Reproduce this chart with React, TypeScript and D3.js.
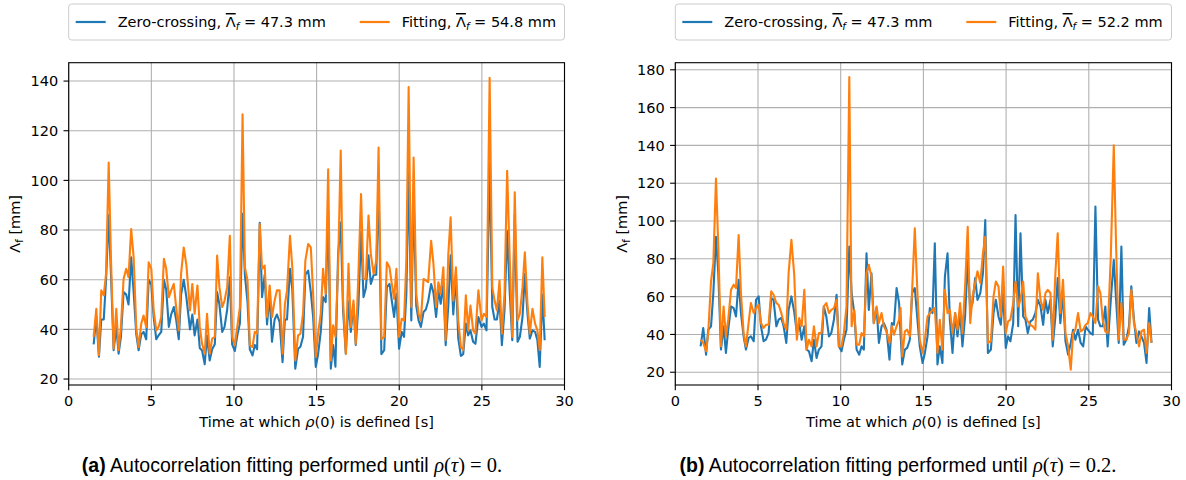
import React from 'react';
import * as d3 from 'd3';

// ---------- data ----------
const xTicks = [0, 5, 10, 15, 20, 25, 30];
const yTicksA = [20, 40, 60, 80, 100, 120, 140];
const yTicksB = [20, 40, 60, 80, 100, 120, 140, 160, 180];
const xLim = [0, 30];
const yLimA = [17.6, 147.4];
const yLimB = [13.25, 183.75];
const meanZero = '47.3';
const meanFitA = '54.8';
const meanFitB = '52.2';

const timesA = [1.51,1.67,1.83,1.97,2.12,2.26,2.42,2.56,2.72,2.88,3.02,3.16,3.32,3.48,3.62,3.78,3.93,4.09,4.23,4.39,4.53,4.69,4.84,5.0,5.14,5.3,5.44,5.6,5.76,5.9,6.06,6.2,6.36,6.5,6.66,6.8,6.96,7.12,7.34,7.48,7.62,7.79,7.93,8.07,8.23,8.37,8.53,8.68,8.84,8.98,9.12,9.29,9.43,9.59,9.75,9.89,10.05,10.2,10.36,10.52,10.66,10.82,10.96,11.12,11.26,11.4,11.56,11.7,11.86,12.0,12.16,12.3,12.46,12.6,12.76,12.94,13.08,13.21,13.39,13.53,13.71,13.88,14.02,14.18,14.32,14.49,14.65,14.79,14.95,15.09,15.25,15.39,15.55,15.7,15.86,16.0,16.14,16.3,16.46,16.6,16.77,16.93,17.07,17.23,17.37,17.53,17.69,17.84,17.98,18.14,18.28,18.45,18.61,18.75,18.92,19.09,19.25,19.41,19.55,19.69,19.83,19.99,20.15,20.29,20.43,20.57,20.73,20.87,21.03,21.17,21.31,21.47,21.61,21.75,21.93,22.07,22.23,22.37,22.51,22.67,22.81,22.97,23.11,23.27,23.43,23.57,23.73,23.87,24.03,24.17,24.31,24.47,24.61,24.79,24.98,25.12,25.28,25.47,25.63,25.77,25.91,26.07,26.21,26.37,26.53,26.69,26.84,26.99,27.16,27.3,27.46,27.6,27.76,27.9,28.06,28.22,28.36,28.5,28.66,28.8];
const zeroA = [34,45,29,44,44,60,86,62,31.6,41,30.2,37,55,54,50,69,55,38,31.6,38,39,36,60,58,45,36,37.6,39,60,56,41,46,49,44,36,54,60,53,40,46,37.6,44,32.5,31.5,26,37.5,27.5,32,34,55,50,39,41,48,61,34,31.3,37.5,42.5,86.5,62,51,32,29.5,33.7,32,82.9,53,62,42,54,35,44,46,43,26.8,44,44,64.4,56,24.2,32.2,33,37,62,63.7,55,45,24.9,30,39,53,51,88,24.2,33.7,25,70,83,47.8,30.2,51.3,39,50,33.7,49.5,79.3,53,56.6,69.8,58.3,61.9,62,100,30,31.6,57,58.3,51.6,45,54.3,32.2,39,37,54.3,103,43.6,93.5,49.5,43.6,41,47,48,51.3,58.3,54.8,45,55.7,50.3,58.3,33.6,49.5,69.8,46,61.9,36.4,29.3,30,42.3,37.6,39.6,35,34.2,45,41,42.3,39.6,107,49,44,44,51.6,33.6,47.6,79.6,54.3,35.6,86,35,37,45,62.4,46.3,36.3,39.6,39,35.6,24.9,54,35.6];
const fitA = [37,48.3,29.6,55.7,53.7,62.4,107.2,67.7,32.2,48.3,31.6,41,60.3,64.4,61,80.4,69,40.3,32.9,42.3,45.6,41,67,64.4,47.6,39.6,41,45,68.4,64.4,53,55.7,58.3,49,39.6,62.4,73,66,47.6,58.3,46.3,57.7,41,34.2,30.2,46.3,30.2,36.3,37,69.7,57,49,51.6,57,77.7,37,33.6,41,49,126.6,65,59.7,33.6,32.9,39,38.3,82.4,64.4,65.7,45,57.7,45,51.6,55.7,55.7,30.2,50,55.7,77.7,65,27.5,37.6,38.3,46.3,67.7,74.4,73,54.3,28.9,38.3,46.3,64.4,54.3,104.5,27.5,41.6,37,65,112,51.6,30.2,66.4,41,51.6,34.2,62.4,94.5,60.3,60.3,85.8,70.4,62.4,67.7,113.2,36,37,67,65,58.3,52.3,64.4,37,44.3,43.6,67.7,137.6,49,109.2,54.3,46.3,43.6,60.3,59.7,59,75.7,66.4,49,59,54.3,65,35.6,70.4,85.1,51.6,65,43.6,32.9,31.6,53.7,39.6,49.6,39.6,38.3,55.7,43.6,46.3,45,141.3,57,51.6,47.6,59.7,38.3,54.3,103.9,67.7,37,95.2,43.6,46.3,57,71,50.3,38.3,48.3,42.3,39.6,31.6,69,45];

const timesB = [1.53,1.69,1.86,1.99,2.16,2.3,2.46,2.6,2.76,2.92,3.06,3.2,3.37,3.53,3.67,3.83,3.97,4.13,4.27,4.43,4.57,4.74,4.88,5.04,5.18,5.34,5.48,5.64,5.8,5.94,6.11,6.25,6.41,6.55,6.71,6.85,7.02,7.19,7.35,7.49,7.64,7.8,7.94,8.08,8.24,8.38,8.54,8.68,8.84,8.98,9.13,9.29,9.43,9.59,9.75,9.89,10.05,10.19,10.35,10.52,10.66,10.82,10.96,11.12,11.26,11.4,11.56,11.7,11.86,12.0,12.17,12.31,12.47,12.61,12.77,12.95,13.09,13.22,13.38,13.53,13.62,13.72,13.88,14.02,14.18,14.32,14.48,14.64,14.78,14.95,15.09,15.25,15.39,15.55,15.69,15.85,15.99,16.15,16.3,16.46,16.6,16.76,16.92,17.06,17.22,17.36,17.52,17.68,17.83,17.97,18.13,18.27,18.44,18.6,18.74,18.9,19.08,19.24,19.38,19.54,19.68,19.82,19.98,20.12,20.26,20.43,20.57,20.73,20.87,21.03,21.17,21.31,21.47,21.61,21.77,21.92,22.08,22.24,22.38,22.52,22.68,22.82,22.98,23.12,23.28,23.44,23.59,23.75,23.91,24.05,24.19,24.35,24.51,24.66,24.81,24.94,25.1,25.24,25.4,25.56,25.7,25.84,26.0,26.14,26.33,26.51,26.65,26.81,26.97,27.11,27.27,27.43,27.57,27.73,27.88,28.04,28.18,28.34,28.49,28.65,28.79];
const zeroB = [33.7,43.4,29.3,42.5,44.3,61.9,91.7,72.4,32,44.3,30.2,42.5,54.8,53.9,49.5,68.9,51.3,39,32,38.1,39,36.4,58.3,60.1,44.3,36.4,37.2,40.7,59.2,58.3,44.3,47.8,48.7,44.3,35.5,53,60.1,52,40.7,46,37.2,44.3,32,31.1,25.8,37.2,27.6,32,33.7,54.8,49.5,39,40.7,47.8,61,33.7,31.1,37.2,42.5,86.5,61.9,51.3,32,29.3,33.7,32,82.9,53,72.4,46,53.9,35.5,44.3,46,42.5,26.7,46,45.1,64.5,56.6,40,24.1,32,32.9,37.2,61.9,64.5,47.8,33.7,24.9,30.2,39,53.9,51.3,88.2,24.1,33.7,24.9,70.6,82.9,47.8,30.2,51.3,39,51.3,33.7,49.5,79.3,53,56.6,69.8,58.3,61.9,72.4,100.5,30.2,32,51.3,58.3,49.5,45.1,61.9,32.9,39,36.4,46,103.2,44.3,93.5,49.5,47.8,40.7,46.9,47.8,51.3,58.3,54.8,45.1,58.3,51.3,58.3,33.7,49.5,69.8,46,61.9,36.4,29.3,35.5,42.5,37.2,42.5,35.5,33.7,44.3,42.5,40.7,39.9,107.6,47.8,44.3,44.3,54.8,33.7,58.3,79.4,58.3,35.5,86.5,34.6,37.2,44.3,65.4,47.8,35.5,41.6,39,35.5,24.9,53.9,35.5];
const fitB = [37.2,35.5,31.1,40.7,68,77.7,122.5,86.5,33.7,54.8,39,47.8,63.6,66.3,64.5,92.6,61.9,40.7,33.7,46,56.6,51.3,53.9,55.7,46,43.4,45.1,45.1,62.8,61,56.6,55.7,51.3,46,42.5,72.4,90,71.5,37.2,48.7,44.3,63.6,32,37.2,33.7,44.3,33.7,40.7,40.7,54.8,56.6,51.3,53,53.9,58.3,33.7,33.7,40.7,54.8,176.1,44.3,53,34.6,34.6,40.7,39,72.4,76.8,70.6,46,54.8,46,51.3,44.3,41.6,35.5,44.3,39.9,44.3,47.8,53.9,28.4,41.6,42.5,39,63.6,96.1,61.9,37.2,30.2,37.2,49.5,51.3,53,53.9,30.2,47.8,32,63.6,51.3,53,40.7,51.3,42.5,56.6,40.7,65.4,97,46,60.1,67.2,73.4,67.2,83,91.7,35.5,36.4,60.1,68,65.4,49.5,75.9,40.7,46.9,47.8,56.6,68,54.8,58.3,68,49.5,46.9,45.1,44.3,42.5,72.4,58.3,53,61.9,63.6,61.9,37.2,72.4,93.5,51.3,68.9,40.7,33.7,21.4,40.7,42.5,51.3,41.6,42.5,45.1,46,51.3,49.5,46,65.4,61.9,47.8,41.6,40.7,81.2,140.1,86.5,37.2,56.6,37.2,37.2,40.7,63.6,46,40.7,33.7,41.6,42.5,30.2,46,35.5];

// ---------- style ----------
const BLUE = '#1f77b4';
const ORANGE = '#ff7f0e';
const FONT = 'DejaVu Sans, sans-serif';
const FS = 14.5;

type PanelProps = {
  left: number; right: number; top: number; bottom: number;
  times: number[]; zero: number[]; fit: number[];
  yLim: number[]; yTicks: number[]; meanFit: string;
  tag: string; mathValue: string; ylabelX: number; captionX: number;
};

function Legend({ left, right, meanFit }: { left: number; right: number; meanFit: string }) {
  const y0 = 4, h = 36, cy = 22, by = 27;
  const item = (x: number, color: string, name: string, mean: string) => (
    <g>
      <line x1={x} x2={x + 30} y1={cy} y2={cy} stroke={color} strokeWidth={2.2} />
      <text x={x + 42} y={by} fontFamily={FONT} fontSize={FS} fill="#000">
        {name}, <tspan style={{ textDecoration: 'overline' }}>Λ</tspan>
        <tspan fontStyle="italic" fontSize={FS * 0.7} dy={3}>f</tspan>
        <tspan dy={-3}> = {mean} mm</tspan>
      </text>
    </g>
  );
  return (
    <g>
      <rect x={left} y={y0} width={right - left} height={h} rx={3} ry={3}
        fill="#fff" fillOpacity={0.8} stroke="#cccccc" strokeWidth={1} />
      {item(left + 7, BLUE, 'Zero-crossing', meanZero)}
      {item(left + 291, ORANGE, 'Fitting', meanFit)}
    </g>
  );
}

function Panel(p: PanelProps) {
  const x = d3.scaleLinear().domain(xLim).range([p.left, p.right]);
  const y = d3.scaleLinear().domain(p.yLim).range([p.bottom, p.top]);
  const line = d3.line<number>().x((_, i) => x(p.times[i])).y((d) => y(d));
  const tickLen = 5.2;
  const cx = (p.left + p.right) / 2;
  const cyMid = (p.top + p.bottom) / 2;
  return (
    <g>
      {xTicks.map((t) => (
        <line key={'gx' + t} x1={x(t)} x2={x(t)} y1={p.top} y2={p.bottom} stroke="#b0b0b0" strokeWidth={1.1} />
      ))}
      {p.yTicks.map((t) => (
        <line key={'gy' + t} x1={p.left} x2={p.right} y1={y(t)} y2={y(t)} stroke="#b0b0b0" strokeWidth={1.1} />
      ))}
      <path d={line(p.zero) || ''} fill="none" stroke={BLUE} strokeWidth={2.1} strokeLinejoin="round" />
      <path d={line(p.fit) || ''} fill="none" stroke={ORANGE} strokeWidth={2.1} strokeLinejoin="round" />
      <rect x={p.left} y={p.top} width={p.right - p.left} height={p.bottom - p.top} fill="none" stroke="#000" strokeWidth={1.1} />
      {xTicks.map((t) => (
        <g key={'tx' + t}>
          <line x1={x(t)} x2={x(t)} y1={p.bottom} y2={p.bottom + tickLen} stroke="#000" strokeWidth={1.1} />
          <text x={x(t)} y={p.bottom + 21} textAnchor="middle" fontFamily={FONT} fontSize={FS}>{t}</text>
        </g>
      ))}
      {p.yTicks.map((t) => (
        <g key={'ty' + t}>
          <line x1={p.left - tickLen} x2={p.left} y1={y(t)} y2={y(t)} stroke="#000" strokeWidth={1.1} />
          <text x={p.left - 10.5} y={y(t) + 5.2} textAnchor="end" fontFamily={FONT} fontSize={FS}>{t}</text>
        </g>
      ))}
      <text x={cx} y={p.bottom + 42} textAnchor="middle" fontFamily={FONT} fontSize={FS}>
        Time at which <tspan fontStyle="italic">ρ</tspan>(0) is defined [s]
      </text>
      <text transform={`translate(${p.ylabelX},${cyMid}) rotate(-90)`} textAnchor="middle" fontFamily={FONT} fontSize={FS}>
        Λ<tspan fontSize={FS * 0.7} dy={3}>f</tspan><tspan dy={-3}> [mm]</tspan>
      </text>
      <text x={p.captionX} y={472} textAnchor="middle" fontFamily="Liberation Sans, Arial, sans-serif" fontSize={19.5}>
        <tspan fontWeight="bold">({p.tag})</tspan> Autocorrelation fitting performed until{' '}
        <tspan fontFamily="Liberation Serif, serif" fontSize={20.5}>
          <tspan fontStyle="italic">ρ</tspan>(<tspan fontStyle="italic">τ</tspan>) = {p.mathValue}.
        </tspan>
      </text>
      <Legend left={p.left} right={p.right} meanFit={p.meanFit} />
    </g>
  );
}

export default function App() {
  return (
    <svg width={1186} height={480} viewBox="0 0 1186 480"
      style={{ position: 'absolute', left: 0, top: 0, background: '#fff' }}>
      <rect x={0} y={0} width={1186} height={480} fill="#fff" />
      <Panel left={68.7} right={564.5} top={62.7} bottom={385}
        times={timesA} zero={zeroA} fit={fitA} yLim={yLimA} yTicks={yTicksA}
        meanFit={meanFitA} tag="a" mathValue="0" ylabelX={20} captionX={292} />
      <Panel left={675.3} right={1171.5} top={62.7} bottom={385}
        times={timesB} zero={zeroB} fit={fitB} yLim={yLimB} yTicks={yTicksB}
        meanFit={meanFitB} tag="b" mathValue="0.2" ylabelX={627} captionX={898} />
    </svg>
  );
}
